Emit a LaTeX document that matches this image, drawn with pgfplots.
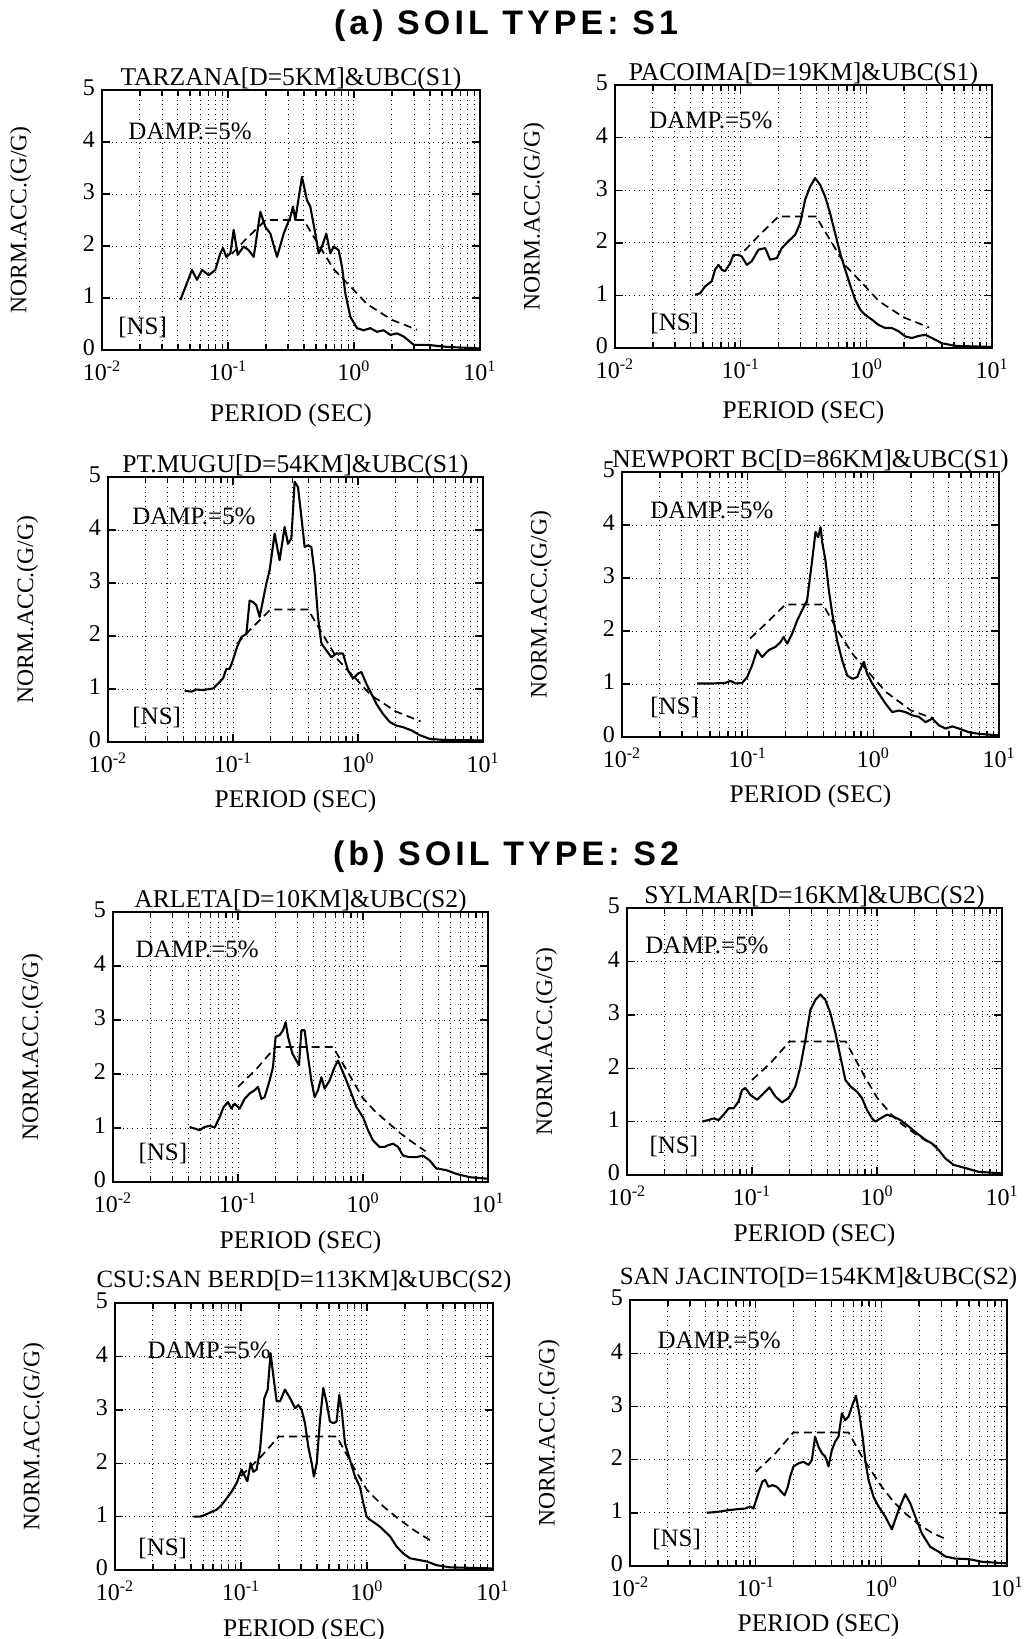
\documentclass[border=0pt]{standalone}
\usepackage{fontspec}
\setmainfont{Liberation Serif}
\newfontfamily\headfont[LetterSpace=12]{Liberation Sans}
\usepackage{pgfplots}
\pgfplotsset{compat=1.18}
\newcommand{\fs}[1]{\fontsize{#1}{#1}\selectfont}
\pgfplotsset{
  spec/.style={
    scale only axis,
    xmin=-2, xmax=1, ymin=0, ymax=5,
    xtick={-2,-1,0,1},
    xticklabels={10\textsuperscript{-2},10\textsuperscript{-1},10\textsuperscript{0},10\textsuperscript{1}},
    minor xtick={-1.699,-1.523,-1.398,-1.301,-1.222,-1.155,-1.097,-1.046,
                 -0.699,-0.523,-0.398,-0.301,-0.222,-0.155,-0.097,-0.046,
                 0.301,0.477,0.602,0.699,0.778,0.845,0.903,0.954},
    ytick={0,1,2,3,4,5},
    xmajorgrids, xminorgrids, ymajorgrids,
    grid style={black, dotted, line width=0.5pt},
    tick align=inside,
    major tick length=4pt, minor tick length=3pt,
    every tick/.style={black, line width=0.7pt},
    axis line style={black, line width=1pt},
    /pgf/number format/assume math mode=true,
    tick label style={font=\fs{12}},
    xticklabel style={yshift=-2pt},
    yticklabel style={yshift=1pt},
    xlabel={PERIOD (SEC)},
    ylabel={NORM.ACC.(G/G)},
    xlabel style={font=\fs{12.7}, at={(axis description cs:0.5,-0.225)}, anchor=center},
    ylabel style={font=\fs{11.8}, at={(axis description cs:-0.215,0.5)}, anchor=center},
    every axis title/.style={at={(0.5,1)}, anchor=base, yshift=2.5pt, inner sep=0pt, font=\fs{12.8}},
  },
  obs/.style={black, line width=1.05pt, no marks, line join=round},
  ubc/.style={black, line width=0.85pt, no marks, dash pattern=on 4pt off 2.5pt},
}
\newcommand{\dampns}[4]{%
  \node[anchor=west, font=\fs{12.5}, inner sep=0pt] at (rel axis cs:#1,#2) {DAMP.=5\%};
  \node[anchor=west, font=\fs{12.5}, inner sep=0pt] at (rel axis cs:#3,#4) {[NS]};}
\begin{document}
\begin{tikzpicture}
\path[use as bounding box] (0,0) rectangle (512pt,-819.5pt);
\node[font=\headfont\bfseries\fs{17}] at (253pt,-13pt) {(a) SOIL TYPE: S1};
\node[font=\headfont\bfseries\fs{17}] at (253pt,-428.5pt) {(b) SOIL TYPE: S2};

% P1 TARZANA
\begin{axis}[spec, at={(51pt,-175pt)}, anchor=south west, width=189pt, height=130pt,
  title={TARZANA[D=5KM]\&UBC(S1)},
  xlabel style={at={(axis description cs:0.5,-0.25)}}]
\addplot[obs] coordinates {(-1.378,0.96)(-1.286,1.54)(-1.246,1.35)(-1.206,1.54)(-1.153,1.44)(-1.101,1.54)(-1.061,1.86)(-1.040,1.96)(-1.013,1.79)(-0.981,1.86)(-0.955,2.31)(-0.923,1.83)(-0.876,1.99)(-0.836,1.92)(-0.796,1.79)(-0.743,2.66)(-0.704,2.37)(-0.664,2.24)(-0.611,1.79)(-0.558,2.24)(-0.505,2.56)(-0.484,2.76)(-0.466,2.50)(-0.413,3.33)(-0.373,2.88)(-0.347,2.76)(-0.307,2.24)(-0.280,1.86)(-0.254,1.99)(-0.220,2.24)(-0.188,1.86)(-0.161,1.99)(-0.122,1.92)(-0.095,1.60)(-0.069,1.09)(-0.029,0.64)(0.024,0.42)(0.077,0.38)(0.130,0.42)(0.183,0.35)(0.235,0.38)(0.288,0.29)(0.341,0.32)(0.394,0.26)(0.474,0.10)(0.579,0.10)(0.738,0.06)(1.0,0.03)};
\addplot[ubc] coordinates {(-0.97,1.85)(-0.85,2.15)(-0.7,2.5)(-0.4,2.5)(-0.29,2.06)(-0.16,1.55)(0,1.15)(0.1,0.89)(0.3,0.58)(0.5,0.39)};
\dampns{0.069}{0.84}{0.042}{0.085}
\end{axis}

% P2 PACOIMA
\begin{axis}[spec, at={(307.5pt,-174pt)}, anchor=south west, width=188.5pt, height=131.5pt,
  title={PACOIMA[D=19KM]\&UBC(S1)},
  xlabel style={at={(axis description cs:0.5,-0.245)}}]
\addplot[obs] coordinates {(-1.363,1.01)(-1.323,1.04)(-1.283,1.17)(-1.230,1.27)(-1.204,1.49)(-1.177,1.58)(-1.150,1.49)(-1.124,1.46)(-1.084,1.61)(-1.058,1.77)(-1.018,1.77)(-0.991,1.74)(-0.951,1.58)(-0.912,1.65)(-0.858,1.87)(-0.805,1.90)(-0.766,1.68)(-0.712,1.71)(-0.673,1.90)(-0.620,2.03)(-0.567,2.15)(-0.527,2.37)(-0.487,2.82)(-0.447,3.07)(-0.407,3.23)(-0.367,3.10)(-0.328,2.88)(-0.288,2.56)(-0.248,2.18)(-0.208,1.80)(-0.168,1.49)(-0.129,1.20)(-0.089,0.92)(-0.049,0.73)(-0.009,0.63)(0.044,0.54)(0.097,0.44)(0.150,0.38)(0.203,0.38)(0.256,0.32)(0.310,0.22)(0.363,0.19)(0.416,0.23)(0.469,0.25)(0.522,0.19)(0.602,0.09)(0.708,0.04)(1.0,0.02)};
\addplot[ubc] coordinates {(-0.97,1.85)(-0.85,2.15)(-0.7,2.5)(-0.4,2.5)(-0.29,2.06)(-0.16,1.55)(0,1.15)(0.1,0.89)(0.3,0.58)(0.5,0.39)};
\dampns{0.09}{0.867}{0.093}{0.095}
\end{axis}

% P3 PT.MUGU
\begin{axis}[spec, at={(54pt,-371pt)}, anchor=south west, width=187.5pt, height=132.5pt,
  title={PT.MUGU[D=54KM]\&UBC(S1)}]
\addplot[obs] coordinates {(-1.387,0.97)(-1.333,0.95)(-1.293,0.99)(-1.240,0.98)(-1.160,1.01)(-1.120,1.10)(-1.080,1.20)(-1.053,1.38)(-1.027,1.38)(-1.0,1.55)(-0.968,1.79)(-0.933,1.98)(-0.893,2.04)(-0.867,2.67)(-0.840,2.64)(-0.813,2.58)(-0.787,2.36)(-0.733,2.99)(-0.707,3.24)(-0.667,3.93)(-0.627,3.43)(-0.587,4.06)(-0.560,3.74)(-0.533,3.84)(-0.507,4.91)(-0.480,4.81)(-0.453,4.25)(-0.427,3.68)(-0.400,3.71)(-0.373,3.68)(-0.347,3.18)(-0.320,2.36)(-0.293,1.86)(-0.253,1.73)(-0.213,1.60)(-0.173,1.67)(-0.120,1.67)(-0.080,1.35)(-0.040,1.20)(0.0,1.29)(0.027,1.32)(0.067,1.10)(0.107,0.91)(0.147,0.72)(0.20,0.53)(0.253,0.38)(0.307,0.31)(0.36,0.28)(0.427,0.22)(0.493,0.13)(0.573,0.06)(0.68,0.04)(1.0,0.03)};
\addplot[ubc] coordinates {(-0.97,1.85)(-0.85,2.15)(-0.7,2.5)(-0.4,2.5)(-0.29,2.06)(-0.16,1.55)(0,1.15)(0.1,0.89)(0.3,0.58)(0.5,0.39)};
\dampns{0.064}{0.85}{0.064}{0.094}
\end{axis}

% P4 NEWPORT BC
\begin{axis}[spec, at={(311pt,-368.5pt)}, anchor=south west, width=188.5pt, height=132.5pt,
  title={NEWPORT BC[D=86KM]\&UBC(S1)}]
\addplot[obs] coordinates {(-1.403,1.01)(-1.283,1.01)(-1.177,1.02)(-1.137,1.06)(-1.097,1.01)(-1.044,1.02)(-1.004,1.13)(-0.965,1.35)(-0.925,1.64)(-0.885,1.51)(-0.832,1.64)(-0.779,1.70)(-0.739,1.79)(-0.713,1.89)(-0.686,1.76)(-0.646,1.95)(-0.606,2.20)(-0.567,2.39)(-0.527,2.58)(-0.487,3.33)(-0.460,3.87)(-0.439,3.77)(-0.420,3.96)(-0.407,3.68)(-0.381,3.33)(-0.354,2.77)(-0.327,2.33)(-0.288,1.82)(-0.248,1.45)(-0.208,1.16)(-0.168,1.10)(-0.128,1.13)(-0.102,1.29)(-0.075,1.42)(-0.049,1.19)(-0.009,1.01)(0.044,0.82)(0.097,0.63)(0.150,0.47)(0.203,0.50)(0.256,0.47)(0.309,0.41)(0.363,0.38)(0.416,0.28)(0.469,0.35)(0.522,0.22)(0.575,0.16)(0.628,0.20)(0.681,0.16)(0.761,0.09)(0.841,0.06)(1.0,0.03)};
\addplot[ubc] coordinates {(-0.98,1.86)(-0.85,2.15)(-0.7,2.5)(-0.4,2.5)(-0.29,2.03)(-0.16,1.55)(0,1.12)(0.1,0.85)(0.3,0.5)(0.48,0.35)};
\dampns{0.074}{0.857}{0.074}{0.11}
\end{axis}

% P5 ARLETA
\begin{axis}[spec, at={(56.5pt,-591pt)}, anchor=south west, width=187.5pt, height=135pt,
  title={ARLETA[D=10KM]\&UBC(S2)}]
\addplot[obs] coordinates {(-1.387,1.02)(-1.347,0.99)(-1.307,0.96)(-1.267,1.02)(-1.227,1.04)(-1.187,1.01)(-1.147,1.20)(-1.115,1.39)(-1.080,1.48)(-1.053,1.36)(-1.027,1.45)(-0.987,1.36)(-0.947,1.54)(-0.907,1.64)(-0.867,1.70)(-0.840,1.76)(-0.813,1.54)(-0.787,1.57)(-0.747,1.88)(-0.720,2.13)(-0.699,2.69)(-0.667,2.72)(-0.640,2.81)(-0.619,2.96)(-0.600,2.69)(-0.565,2.38)(-0.533,2.25)(-0.512,2.16)(-0.493,2.81)(-0.467,2.81)(-0.440,2.32)(-0.413,1.88)(-0.387,1.57)(-0.360,1.70)(-0.333,1.94)(-0.307,1.73)(-0.267,1.88)(-0.227,2.13)(-0.200,2.25)(-0.173,2.10)(-0.133,1.88)(-0.093,1.64)(-0.053,1.39)(0.0,1.20)(0.040,0.96)(0.080,0.77)(0.133,0.65)(0.173,0.65)(0.200,0.68)(0.240,0.71)(0.280,0.65)(0.320,0.49)(0.373,0.46)(0.427,0.46)(0.480,0.49)(0.533,0.40)(0.587,0.25)(0.667,0.22)(0.747,0.15)(0.853,0.09)(1.0,0.06)};
\addplot[ubc] coordinates {(-1.0,1.76)(-0.85,2.1)(-0.7,2.5)(-0.24,2.5)(-0.1,1.95)(0,1.55)(0.1,1.3)(0.2,1.1)(0.3,0.9)(0.4,0.73)(0.5,0.57)};
\dampns{0.059}{0.86}{0.067}{0.107}
\end{axis}

% P6 SYLMAR
\begin{axis}[spec, at={(313.5pt,-587.5pt)}, anchor=south west, width=187.5pt, height=133.5pt,
  title={SYLMAR[D=16KM]\&UBC(S2)}]
\addplot[obs] coordinates {(-1.4,1.0)(-1.347,1.03)(-1.307,1.06)(-1.267,1.03)(-1.227,1.13)(-1.187,1.25)(-1.147,1.25)(-1.107,1.38)(-1.080,1.59)(-1.053,1.63)(-1.013,1.50)(-0.960,1.41)(-0.907,1.53)(-0.861,1.64)(-0.813,1.47)(-0.760,1.36)(-0.707,1.44)(-0.653,1.66)(-0.613,2.03)(-0.573,2.53)(-0.533,3.09)(-0.493,3.28)(-0.453,3.38)(-0.413,3.28)(-0.373,3.03)(-0.333,2.66)(-0.293,2.22)(-0.253,1.78)(-0.213,1.66)(-0.160,1.56)(-0.120,1.44)(-0.080,1.22)(-0.040,1.06)(-0.013,1.0)(0.027,1.06)(0.080,1.13)(0.133,1.09)(0.187,1.03)(0.253,0.91)(0.320,0.78)(0.387,0.66)(0.440,0.59)(0.493,0.47)(0.547,0.31)(0.613,0.19)(0.707,0.13)(0.813,0.06)(1.0,0.03)};
\addplot[ubc] coordinates {(-1.0,1.78)(-0.85,2.1)(-0.7,2.5)(-0.25,2.5)(-0.1,1.85)(0,1.45)(0.12,1.12)(0.2,0.95)(0.3,0.78)(0.4,0.63)(0.48,0.53)};
\dampns{0.048}{0.86}{0.059}{0.105}
\end{axis}

% P7 CSU:SAN BERD
\begin{axis}[spec, at={(57.5pt,-785pt)}, anchor=south west, width=189pt, height=133.5pt,
  title={CSU:SAN BERD[D=113KM]\&UBC(S2)},
  title style={yshift=5.5pt, font=\fs{12.4}}]
\addplot[obs] coordinates {(-1.378,1.0)(-1.325,1.0)(-1.286,1.03)(-1.233,1.09)(-1.193,1.13)(-1.153,1.22)(-1.114,1.34)(-1.074,1.47)(-1.034,1.63)(-0.995,1.88)(-0.968,1.75)(-0.950,1.66)(-0.923,2.0)(-0.902,1.84)(-0.876,1.88)(-0.849,2.25)(-0.815,3.22)(-0.788,3.38)(-0.765,4.06)(-0.743,3.63)(-0.717,3.16)(-0.690,3.16)(-0.651,3.38)(-0.611,3.22)(-0.571,3.03)(-0.545,3.09)(-0.519,3.0)(-0.492,2.75)(-0.466,2.31)(-0.439,2.0)(-0.421,1.75)(-0.399,2.0)(-0.373,2.81)(-0.347,3.41)(-0.320,3.13)(-0.294,2.78)(-0.267,2.75)(-0.241,2.78)(-0.220,3.28)(-0.201,3.0)(-0.175,2.38)(-0.135,2.06)(-0.095,1.75)(-0.056,1.56)(-0.029,1.25)(-0.003,1.0)(0.024,0.94)(0.063,0.88)(0.103,0.81)(0.143,0.72)(0.183,0.63)(0.235,0.44)(0.288,0.31)(0.341,0.22)(0.407,0.19)(0.474,0.16)(0.553,0.09)(0.659,0.05)(1.0,0.03)};
\addplot[ubc] coordinates {(-1.0,1.76)(-0.85,2.1)(-0.7,2.5)(-0.24,2.5)(-0.1,1.9)(0,1.5)(0.13,1.19)(0.26,0.94)(0.39,0.72)(0.5,0.56)};
\dampns{0.085}{0.824}{0.061}{0.082}
\end{axis}

% P8 SAN JACINTO
\begin{axis}[spec, at={(315pt,-783pt)}, anchor=south west, width=188.5pt, height=133pt,
  title={SAN JACINTO[D=154KM]\&UBC(S2)},
  title style={yshift=5.5pt, font=\fs{12.4}}]
\addplot[obs] coordinates {(-1.389,1.0)(-1.296,1.02)(-1.217,1.05)(-1.137,1.07)(-1.084,1.08)(-1.044,1.12)(-1.018,1.08)(-0.978,1.37)(-0.946,1.59)(-0.925,1.62)(-0.898,1.49)(-0.866,1.52)(-0.832,1.49)(-0.797,1.40)(-0.770,1.33)(-0.744,1.49)(-0.726,1.68)(-0.699,1.87)(-0.659,1.93)(-0.619,1.96)(-0.580,1.90)(-0.553,1.99)(-0.527,2.43)(-0.500,2.24)(-0.473,2.12)(-0.447,2.06)(-0.420,1.87)(-0.394,2.18)(-0.367,2.34)(-0.341,2.43)(-0.314,2.87)(-0.288,2.74)(-0.261,2.81)(-0.234,3.0)(-0.202,3.20)(-0.176,2.87)(-0.149,2.43)(-0.128,1.99)(-0.102,1.62)(-0.062,1.30)(-0.022,1.12)(0.031,0.93)(0.084,0.69)(0.137,1.05)(0.190,1.35)(0.230,1.18)(0.270,0.93)(0.323,0.61)(0.389,0.36)(0.456,0.27)(0.509,0.18)(0.589,0.14)(0.695,0.13)(0.801,0.08)(1.0,0.05)};
\addplot[ubc] coordinates {(-1.0,1.77)(-0.85,2.1)(-0.7,2.51)(-0.26,2.51)(-0.155,2.06)(0,1.5)(0.1,1.2)(0.2,0.97)(0.3,0.78)(0.4,0.63)(0.5,0.52)};
\dampns{0.072}{0.85}{0.058}{0.098}
\end{axis}
\end{tikzpicture}
\end{document}
